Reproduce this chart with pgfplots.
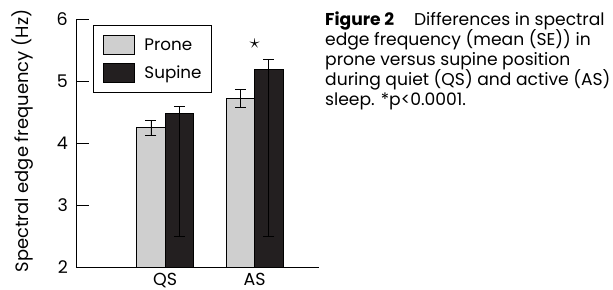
\documentclass[border=0pt]{standalone}
\usepackage{fontspec}
\setmainfont{Poppins}
\usepackage{pgfplots}
\pgfplotsset{compat=1.18}
\definecolor{lightbar}{RGB}{207,207,207}
\definecolor{darkbar}{RGB}{35,31,32}
\begin{document}
\begin{tikzpicture}
\path[use as bounding box] (0bp,0bp) rectangle (613bp,290bp);
\begin{axis}[
  at={(76bp,23bp)}, anchor=south west,
  scale only axis, width=243bp, height=248bp,
  xmin=-0.997, xmax=1.72, ymin=2, ymax=6,
  ybar=0pt, bar width=28.5bp,
  axis lines=left,
  axis line style={-, line width=0.8bp, black},
  ytick={2,3,4,5,6},
  tick align=inside, major tick length=13bp,
  y tick style={line width=0.8bp, black},
  xtick={0,1}, xticklabels={QS,AS},
  x tick style={draw=none},
  tick label style={font=\fontsize{17.5}{19}\selectfont},
  /pgf/number format/assume math mode=true,
  yticklabel style={inner sep=0pt, xshift=-8bp},
  xticklabel style={inner sep=0pt, yshift=-5.5bp},
  ylabel={Spectral edge frequency (Hz)},
  ylabel style={at={(axis description cs:-0.222,0.508)}, anchor=center, rotate=0, font=\fontsize{18}{20}\selectfont},
  legend style={at={(rel axis cs:0.0687,0.976)}, anchor=north west,
    draw=black, line width=0.8bp, inner xsep=10bp, inner ysep=9.5bp,
    row sep=7.6bp, column sep=10bp,
    nodes={inner sep=0pt},
    font=\fontsize{16.8}{18}\selectfont},
  legend cell align=left,
  legend image code/.code={\draw[#1, line width=0.8bp] (0bp,-9.7bp) rectangle (30.6bp,9.7bp);},
  error bars/error bar style={line width=0.8bp, black},
  error bars/error mark options={black, mark size=5.5bp, line width=0.8bp, rotate=90},
]
\addplot[fill=lightbar, draw=black, line width=0.8bp,
  error bars/.cd, y dir=both, y explicit]
  coordinates {(0,4.25) +- (0,0.12) (1,4.72) +- (0,0.145)};
\addplot[fill=darkbar, draw=black, line width=0.8bp,
  error bars/.cd, y dir=both, y explicit]
  coordinates {(0,4.47) += (0,0.12) -= (0,1.97) (1,5.19) += (0,0.16) -= (0,2.69)};
\legend{Prone, Supine}
\node[font=\fontsize{22}{22}\selectfont] at (axis cs:1,5.6) {$\star$};
\end{axis}
\begin{scope}[every node/.style={anchor=base west, inner sep=0pt, font=\fontsize{17.2}{19.5}\selectfont}]
\node at (325bp,264bp) {\textbf{Figure 2}\hspace{20bp}Differences in spectral};
\node at (325bp,244bp) {edge frequency (mean (SE)) in};
\node at (325bp,224bp) {prone versus supine position};
\node at (325bp,204bp) {during quiet (QS) and active (AS)};
\node at (325bp,184bp) {sleep. *p<0.0001.};
\end{scope}
\end{tikzpicture}
\end{document}
